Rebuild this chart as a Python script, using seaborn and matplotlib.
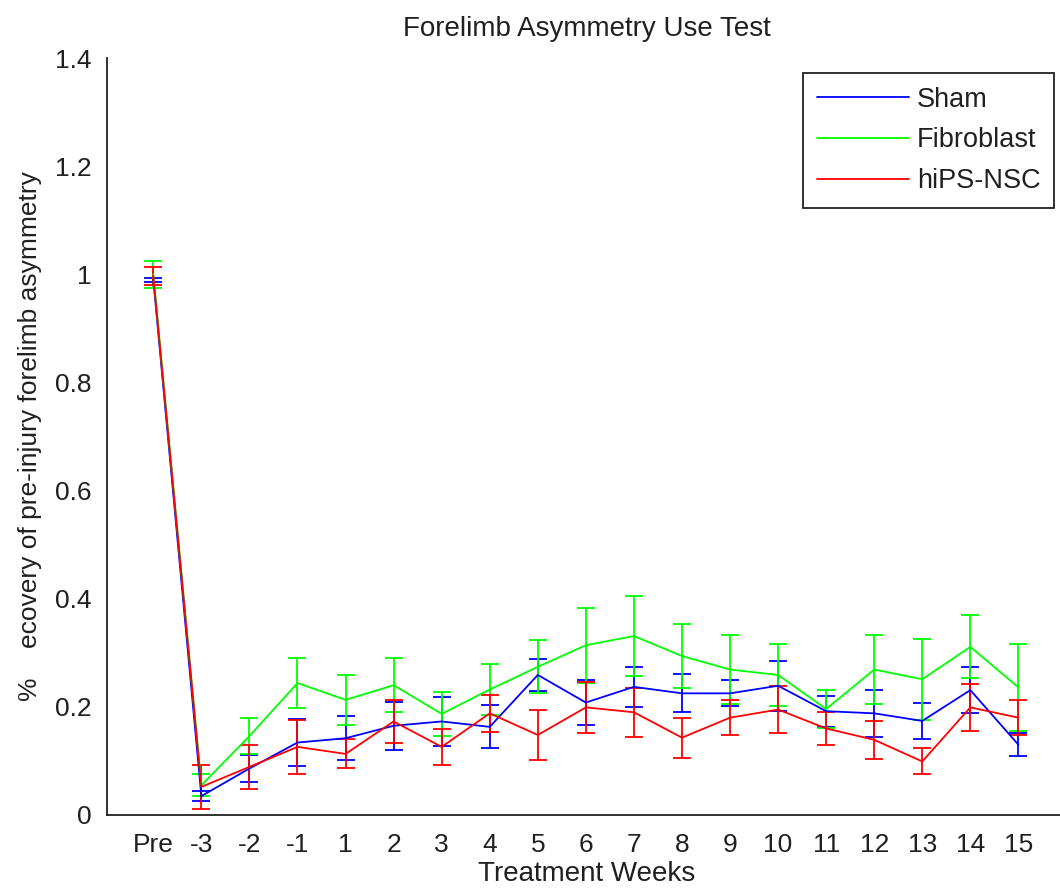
import numpy as np
import pandas as pd
import matplotlib
matplotlib.use("Agg")
import matplotlib.pyplot as plt
import seaborn as sns

# ---- data ----
week_labels = ["Pre", "-3", "-2", "-1", "1", "2", "3", "4", "5", "6", "7",
               "8", "9", "10", "11", "12", "13", "14", "15"]
groups = ["Sham", "Fibroblast", "hiPS-NSC"]

sham = [0.990, 0.035, 0.086, 0.134, 0.142, 0.165, 0.173, 0.163, 0.259, 0.208,
        0.237, 0.225, 0.225, 0.239, 0.192, 0.188, 0.174, 0.231, 0.130]
sham_err = [0.004, 0.010, 0.025, 0.043, 0.041, 0.044, 0.046, 0.040, 0.030, 0.041,
            0.037, 0.035, 0.024, 0.046, 0.029, 0.044, 0.034, 0.043, 0.021]

fibro = [1.000, 0.055, 0.146, 0.244, 0.213, 0.240, 0.187, 0.232, 0.274, 0.314,
         0.331, 0.294, 0.269, 0.259, 0.196, 0.269, 0.251, 0.311, 0.236]
fibro_err = [0.025, 0.020, 0.033, 0.047, 0.046, 0.050, 0.040, 0.047, 0.049, 0.069,
             0.074, 0.060, 0.064, 0.058, 0.036, 0.063, 0.075, 0.058, 0.080]

hips = [0.997, 0.052, 0.089, 0.126, 0.113, 0.173, 0.126, 0.188, 0.148, 0.199,
        0.190, 0.143, 0.180, 0.195, 0.160, 0.139, 0.099, 0.199, 0.180]
hips_err = [0.017, 0.040, 0.041, 0.050, 0.027, 0.039, 0.033, 0.034, 0.047, 0.047,
            0.045, 0.037, 0.032, 0.044, 0.031, 0.035, 0.024, 0.044, 0.032]

colors = {"Sham": "#0000ff", "Fibroblast": "#00ff00", "hiPS-NSC": "#ff0000"}

# ---- build long table ----
x_pos = np.arange(1, len(week_labels) + 1)
rows = []
for g, vals, errs in [("Sham", sham, sham_err), ("Fibroblast", fibro, fibro_err),
                      ("hiPS-NSC", hips, hips_err)]:
    for xp, v, e in zip(x_pos, vals, errs):
        rows.append({"x": xp, "value": v, "err": e, "group": g})
df = pd.DataFrame(rows)

sns.set_style("white")
plt.rcParams["font.family"] = ["Liberation Sans", "DejaVu Sans"]

W, H = 1060, 890
fig = plt.figure(figsize=(W / 100, H / 100), dpi=100)
left_px, bottom_px, top_px = 106.7, 815, 58
unit_px = 48.06
x0, x1 = 0.03, 20.0
ax = fig.add_axes([left_px / W, (H - bottom_px) / H,
                   (x1 - x0) * unit_px / W, (bottom_px - top_px) / H])

# error bars
for g in groups:
    sub = df[df["group"] == g]
    ax.errorbar(sub["x"], sub["value"], yerr=sub["err"], fmt="none",
                ecolor=colors[g], elinewidth=1.3, capsize=6.8, capthick=1.3,
                zorder=2)

sns.lineplot(data=df, x="x", y="value", hue="group", hue_order=groups,
             palette=colors, linewidth=1.3, estimator=None, sort=False,
             ax=ax, zorder=3)

ax.set_xlim(x0, x1)
ax.set_ylim(0, 1.4)
ax.set_xticks(x_pos)
ax.set_xticklabels(week_labels)
ax.set_yticks([0, 0.2, 0.4, 0.6, 0.8, 1.0, 1.2, 1.4])
ax.set_yticklabels(["0", "0.2", "0.4", "0.6", "0.8", "1", "1.2", "1.4"])

for s in ["top", "right"]:
    ax.spines[s].set_visible(False)
for s in ["left", "bottom"]:
    ax.spines[s].set_color("#202020")
    ax.spines[s].set_linewidth(1.3)

ax.tick_params(axis="both", direction="in", length=7, width=1.2,
               colors="#202020", labelsize=19, labelcolor="#202020")
ax.tick_params(axis="x", pad=13)
ax.tick_params(axis="y", pad=11)

ax.set_xlabel("Treatment Weeks", fontsize=20, color="#202020", labelpad=3)
ax.set_ylabel("%    ecovery of pre-injury forelimb asymmetry", fontsize=19,
              color="#202020", labelpad=9)
ax.set_title("Forelimb Asymmetry Use Test", fontsize=20, color="#202020", pad=16)

handles, labels = ax.get_legend_handles_labels()
leg = ax.legend(handles, labels, loc="upper right",
                bbox_to_anchor=(1054 / W, 1 - 73 / H),
                bbox_transform=fig.transFigure, fontsize=19.5, frameon=True,
                fancybox=False, framealpha=1, edgecolor="#202020",
                handlelength=3.4, handletextpad=0.3, labelspacing=0.55,
                borderpad=0.5, borderaxespad=0)
leg.get_frame().set_linewidth(1.3)
for t in leg.get_texts():
    t.set_color("#202020")

fig.savefig("out.png", dpi=100)
